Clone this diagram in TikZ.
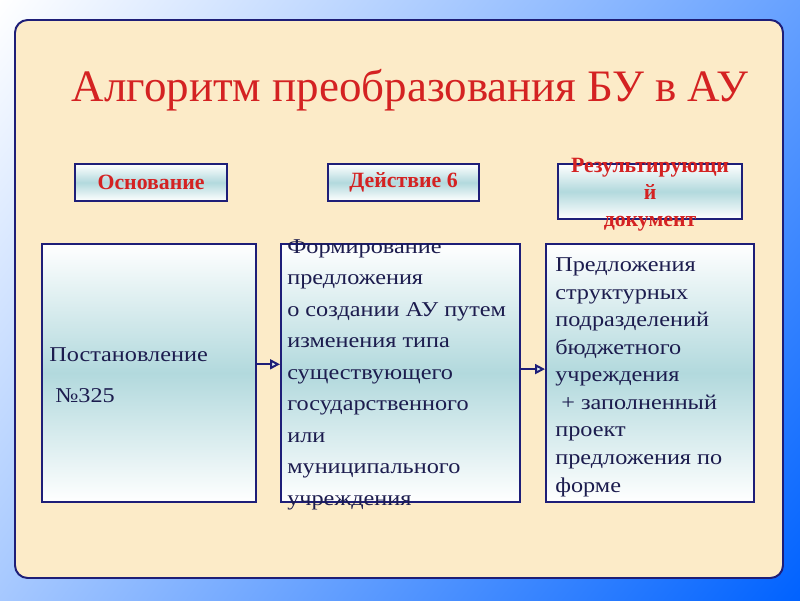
\documentclass[tikz,border=0pt]{standalone}
\usepackage{fontspec}
\setmainfont{Liberation Serif}
\newfontfamily\bodyfont[FakeStretch=1.15]{Liberation Serif}
\usepackage{tikz}
\usetikzlibrary{positioning}
\usetikzlibrary{arrows.meta}
\usetikzlibrary{shadings}

\definecolor{Panel}{HTML}{FCEBC8}
\definecolor{Frame}{HTML}{1E1E78}
\definecolor{Heading}{HTML}{D42222}
\definecolor{Ink}{HTML}{1C1C4E}
\definecolor{Teal}{HTML}{B2D9DD}
\definecolor{Sky}{HTML}{0062FF}

\tikzset{
	panel/.style={draw=Frame, line width=1.4pt, fill=Panel, rounded corners=9pt},
	box/.style={draw=Frame, line width=1.5pt, top color=white, bottom color=white, middle color=Teal, inner sep=0pt, anchor=north west},
	headtext/.style={text=Heading, font=\bfseries\fontsize{15.5}{19.2}\selectfont, align=center, inner sep=0pt},
	bodytext/.style={text=Ink, align=left, inner sep=0pt, anchor=base west},
	link/.style={draw=Frame, line width=1.4pt, -{Triangle[length=7pt, width=7pt, fill=Teal!40]}},
}

\begin{document}
\begin{tikzpicture}[x=0.025cm, y=-0.025cm]
		
		% ---------------------
		% Proper size --- Bounding box
		\useasboundingbox (0,0) rectangle (800,600);
		
		% ---------------------
		% Background & panel
		\shade[upper left=white, upper right=Sky!60, lower left=Sky!35, lower right=Sky] (0,0) rectangle (800,600);
		\draw[panel] (15,20) rectangle (783,578);
		
		\node[text=Heading, font=\fontsize{32}{38}\selectfont] (Title) at (410,90) {Алгоритм преобразования БУ в АУ};
		
		% ---------------------
		% Headers
		\node[box, minimum width=3.8cm, minimum height=0.925cm] (Base) at (74,163) {};
		\node[box, minimum width=3.775cm, minimum height=0.925cm] (Step) at (327,163) {};
		\node[box, minimum width=4.6cm, minimum height=1.375cm] (Result) at (557,163) {};
		
		\node[headtext] (BaseText) at (Base.center) {Основание};
		\node[headtext] (StepText) at (Step.center) {Действие 6};
		\node[headtext, below=0.08cm of Result.center, anchor=center] (ResultText) {Результирующи\\й\\документ};
		
		% ---------------------
		% Columns
		\node[box, minimum width=5.35cm, minimum height=6.45cm] (Decree) at (41,243) {};
		\node[box, minimum width=5.975cm, minimum height=6.45cm] (Action) at (280,243) {};
		\node[box, minimum width=5.2cm, minimum height=6.45cm] (Output) at (545,243) {};
		
		\node[bodytext, font=\bodyfont\fontsize{15}{29}\selectfont] (DecreeText) at (49,402) {Постановление\\\ №325};
		\node[bodytext, font=\bodyfont\fontsize{15}{22.4}\selectfont] (ActionText) at (287,505) {Формирование\\предложения\\о создании АУ путем\\изменения типа\\существующего\\государственного\\или\\муниципального\\учреждения};
		\node[bodytext, font=\bodyfont\fontsize{15}{19.6}\selectfont] (OutputText) at (555,492) {Предложения\\структурных\\подразделений\\бюджетного\\учреждения\\\ + заполненный\\проект\\предложения по\\форме};
		
		% ---------------------
		\draw[link] ([yshift=0.22cm]Decree.east) -- ([yshift=0.22cm]Action.west);
		\draw[link] ([yshift=0.1cm]Action.east) -- ([yshift=0.1cm]Output.west);
		
\end{tikzpicture}
\end{document}
